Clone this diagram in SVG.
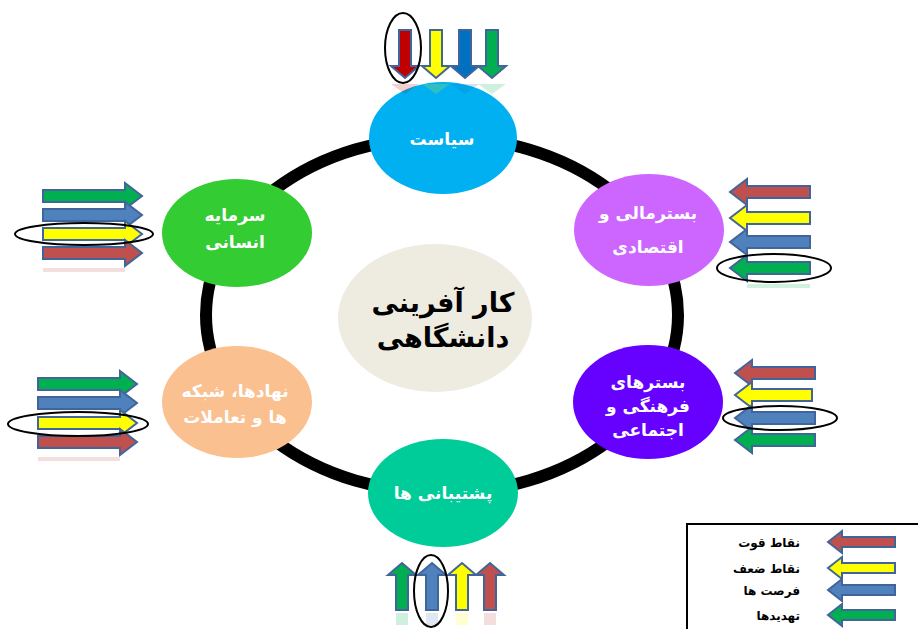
<svg xmlns="http://www.w3.org/2000/svg" width="918" height="629" viewBox="0 0 918 629">
<style>
.ar{stroke:#41659A;stroke-width:2;stroke-linejoin:miter}
.r{fill:#C0504D}.y{fill:#FFFF00}.b{fill:#4F81BD}.g{fill:#00B050}
.ring{fill:none;stroke:#000;stroke-width:12}
.circ{fill:none;stroke:#000;stroke-width:2}
.nt{font-family:"DejaVu Sans",sans-serif;font-weight:bold;font-size:17px;fill:#fff;text-anchor:middle}
.ct{font-family:"DejaVu Sans",sans-serif;font-weight:bold;font-size:27px;fill:#000;text-anchor:middle}
.lt{font-family:"DejaVu Sans",sans-serif;font-weight:bold;font-size:12px;fill:#000;text-anchor:end}
.refl{opacity:0.18}
</style>
<rect width="918" height="629" fill="#fff"/>
<g id="connectors">
<ellipse class="ring" cx="442" cy="315" rx="236" ry="178"/>
</g>
<g id="center">
<ellipse cx="435" cy="318" rx="97" ry="74" fill="#EEECE1"/>
<text class="ct" x="443" y="312">کار آفرینی</text>
<text class="ct" x="443" y="347">دانشگاهی</text>
</g>
<g id="node-siasat">
<ellipse cx="443" cy="138" rx="74" ry="56" fill="#00B0F0"/>
<text class="nt" x="442" y="145">سیاست</text>
</g>
<g id="node-mali">
<ellipse cx="649" cy="230" rx="75" ry="56" fill="#CC66FF"/>
<text class="nt" x="648" y="219">بسترمالی و</text>
<text class="nt" x="648" y="253">اقتصادی</text>
</g>
<g id="node-farhangi">
<ellipse cx="648" cy="402" rx="75" ry="57" fill="#6600FF"/>
<text class="nt" x="648" y="388">بسترهای</text>
<text class="nt" x="648" y="412">فرهنگی و</text>
<text class="nt" x="648" y="436">اجتماعی</text>
</g>
<g id="node-poshtibani">
<ellipse cx="443" cy="493" rx="75" ry="54" fill="#00CC99"/>
<text class="nt" x="443" y="499">پشتیبانی ها</text>
</g>
<g id="node-nahadha">
<ellipse cx="237" cy="402" rx="75" ry="56" fill="#FAC090"/>
<text class="nt" x="235" y="397">نهادها، شبکه</text>
<text class="nt" x="235" y="423">ها و تعاملات</text>
</g>
<g id="node-sarmaye">
<ellipse cx="237" cy="233" rx="75" ry="54" fill="#33CC33"/>
<text class="nt" x="235" y="221">سرمایه</text>
<text class="nt" x="235" y="248">انسانی</text>
</g>
<g id="arrows-top">
<path class="ar" fill="#C00000" d="M399,30 V66 H391 L405,78 L419,66 H411 V30 Z"/>
<path class="ar y" d="M430,30 V66 H422 L436,78 L450,66 H442 V30 Z"/>
<path class="ar" fill="#0070C0" d="M459,30 V66 H451 L465,78 L479,66 H471 V30 Z"/>
<path class="ar g" d="M486,30 V66 H478 L492,78 L506,66 H498 V30 Z"/>
<g class="refl">
<path fill="#C00000" d="M391,84 L405,94 L419,84 Z"/>
<path fill="#FFFF00" d="M422,84 L436,94 L450,84 Z"/>
<path fill="#0070C0" d="M451,84 L465,94 L479,84 Z"/>
<path fill="#00B050" d="M478,84 L492,94 L506,84 Z"/>
</g>
<ellipse class="circ" cx="403" cy="48" rx="18" ry="35"/>
</g>
<g id="arrows-sarmaye">
<path class="ar g" d="M43,190 H125 V183 L142,196 L125,209 V202 H43 Z"/>
<path class="ar b" d="M43,209 H125 V202 L142,215 L125,228 V221 H43 Z"/>
<path class="ar y" d="M43,228 H125 V221 L142,234 L125,247 V240 H43 Z"/>
<path class="ar r" d="M43,247 H125 V240 L142,253 L125,266 V259 H43 Z"/>
<path class="refl" fill="#C0504D" d="M43,268 H125 V272 H43 Z"/>
<ellipse class="circ" cx="84" cy="234" rx="69" ry="11"/>
</g>
<g id="arrows-nahadha">
<path class="ar g" d="M38,378 H120 V371 L137,384 L120,397 V390 H38 Z"/>
<path class="ar b" d="M38,397 H120 V390 L137,403 L120,416 V409 H38 Z"/>
<path class="ar y" d="M38,417 H120 V410 L137,423 L120,436 V429 H38 Z"/>
<path class="ar r" d="M38,436 H120 V429 L137,442 L120,455 V448 H38 Z"/>
<path class="refl" fill="#C0504D" d="M38,457 H120 V461 H38 Z"/>
<ellipse class="circ" cx="78" cy="424" rx="70" ry="12"/>
</g>
<g id="arrows-mali">
<path class="ar r" d="M810,186 H747 V179 L730,192 L747,205 V198 H810 Z"/>
<path class="ar y" d="M810,212 H747 V205 L730,218 L747,231 V224 H810 Z"/>
<path class="ar b" d="M810,236 H747 V229 L730,242 L747,255 V248 H810 Z"/>
<path class="ar g" d="M810,262 H747 V255 L730,268 L747,281 V274 H810 Z"/>
<path class="refl" fill="#00B050" d="M747,284 H810 V288 H747 Z"/>
<ellipse class="circ" cx="774" cy="268" rx="57" ry="14"/>
</g>
<g id="arrows-farhangi">
<path class="ar r" d="M815,367 H752 V360 L735,373 L752,386 V379 H815 Z"/>
<path class="ar y" d="M812,389 H752 V382 L735,395 L752,408 V401 H812 Z"/>
<path class="ar b" d="M815,412 H752 V405 L735,418 L752,431 V424 H815 Z"/>
<path class="ar g" d="M815,434 H752 V427 L735,440 L752,453 V446 H815 Z"/>
<ellipse class="circ" cx="780" cy="418" rx="57" ry="12"/>
</g>
<g id="arrows-poshtibani">
<path class="ar g" d="M396,610 V575 H388 L402,563 L416,575 H408 V610 Z"/>
<path class="ar b" d="M426,610 V575 H418 L432,563 L446,575 H438 V610 Z"/>
<path class="ar y" d="M456,610 V575 H448 L462,563 L476,575 H468 V610 Z"/>
<path class="ar r" d="M484,610 V575 H476 L490,563 L504,575 H496 V610 Z"/>
<g class="refl">
<rect x="396" y="613" width="12" height="12" fill="#00B050"/>
<rect x="426" y="613" width="12" height="12" fill="#4F81BD"/>
<rect x="456" y="613" width="12" height="12" fill="#FFFF00"/>
<rect x="484" y="613" width="12" height="12" fill="#C0504D"/>
</g>
<ellipse class="circ" cx="431" cy="591" rx="17" ry="36"/>
</g>
<g id="legend">
<rect x="687" y="524" width="240" height="120" fill="#fff" stroke="#000" stroke-width="2"/>
<path class="ar r" d="M895,537 H842 V531 L828,542 L842,553 V547 H895 Z"/>
<path class="ar y" d="M895,563 H842 V557 L828,568 L842,579 V573 H895 Z"/>
<path class="ar b" d="M895,585 H842 V579 L828,590 L842,601 V595 H895 Z"/>
<path class="ar g" d="M895,610 H842 V604 L828,615 L842,626 V620 H895 Z"/>
<text class="lt" x="800" y="547">نقاط قوت</text>
<text class="lt" x="800" y="573">نقاط ضعف</text>
<text class="lt" x="800" y="595">فرصت ها</text>
<text class="lt" x="800" y="620">تهدیدها</text>
</g>
</svg>
